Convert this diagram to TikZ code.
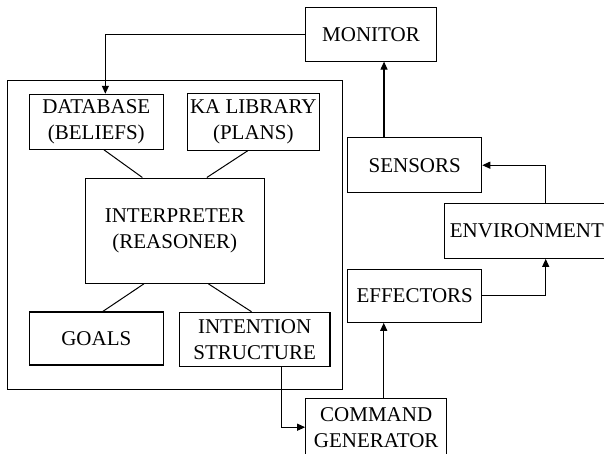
\documentclass[tikz,border=0pt]{standalone}
\usepackage{fontspec}
\setmainfont{Liberation Serif}
\usetikzlibrary{arrows.meta,calc}
\begin{document}
\begin{tikzpicture}[x=1pt,y=-1pt,
  line width=1.1pt,
  box/.style={draw, inner sep=0pt, align=center, font=\fontsize{21}{26}\selectfont},
  arr/.style={-{Triangle[length=8pt,width=7pt]}},
  link/.style={line width=1pt}]
\clip (0,0) rectangle (604,453);
\fill[white] (0,0) rectangle (604,453);
% outer frame
\node[draw, inner sep=0pt, minimum width=335pt, minimum height=308.6pt] (agent) at (174.8,235) {};
% nodes
\node[box, minimum width=131.4pt, minimum height=53.3pt] (mon) at (371,34.4) {MONITOR};
\node[box, minimum width=134pt, minimum height=55pt] (db) at (96.3,121.8) {DATABASE\\(BELIEFS)};
\node[box, minimum width=132pt, minimum height=56.6pt] (ka) at (253.3,122) {KA LIBRARY\\(PLANS)};
\node[box, minimum width=179pt, minimum height=105.3pt] (interp) at (174.8,230.7) {INTERPRETER\\(REASONER)};
\node[box, minimum width=134pt, minimum height=53pt] (goals) at (96.3,338.5) {GOALS};
\node[box, minimum width=150.7pt, minimum height=54.4pt] (intent) at (254.6,339.5) {INTENTION\\STRUCTURE};
\node[box, minimum width=134pt, minimum height=55pt] (sen) at (414.7,165.2) {SENSORS};
\node[box, minimum width=167.7pt, minimum height=55pt, text width=160pt, align=left, inner xsep=0pt] (env) at (528.2,230.8) {\hspace*{1.7pt}ENVIRONMENT};
\node[box, minimum width=134pt, minimum height=53pt] (eff) at (414.7,295.8) {EFFECTORS};
\node[box, minimum width=141pt, minimum height=57pt] (cmd) at (376.2,427.2) {COMMAND\\GENERATOR};
\coordinate (ex) at (545.7,0);
% internal links
\draw[link] ($(db.south west)!0.557!(db.south east)$) -- ($(interp.north west)!0.32!(interp.north east)$);
\draw[link] ($(ka.south west)!0.457!(ka.south east)$) -- ($(interp.north west)!0.678!(interp.north east)$);
\draw[link] ($(interp.south west)!0.328!(interp.south east)$) -- ($(goals.north west)!0.548!(goals.north east)$);
\draw[link] ($(interp.south west)!0.687!(interp.south east)$) -- ($(intent.north west)!0.48!(intent.north east)$);
% arrows
\draw[arr] (mon.west) -| ($(db.north west)!0.567!(db.north east)$);
\coordinate (sx) at ($(sen.north west)!0.273!(sen.north east)$);
\draw[arr] (sx) -- (sx |- mon.south);
\draw[arr] (env.north -| ex) |- (sen.east);
\draw[arr] (eff.east) -| (env.south -| ex);
\coordinate (cx) at ($(cmd.north west)!0.553!(cmd.north east)$);
\draw[arr] (cx) -- (cx |- eff.south);
\draw[arr] ($(intent.south west)!0.675!(intent.south east)$) |- (cmd.west);
\end{tikzpicture}
\end{document}
